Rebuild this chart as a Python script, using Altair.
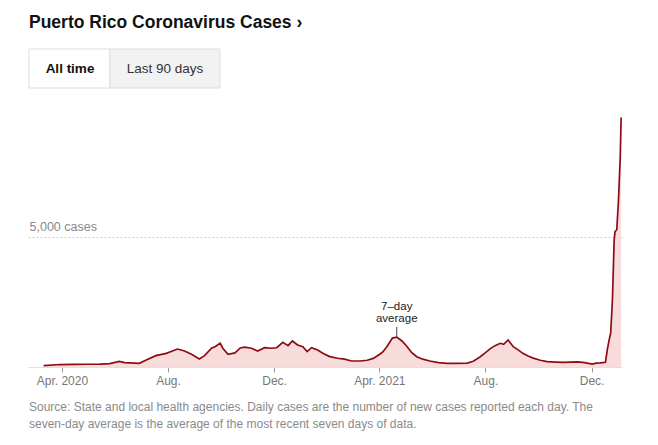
import altair as alt
import pandas as pd

dates = [
    "2020-03-11", "2020-03-30", "2020-04-15", "2020-04-29", "2020-05-15", "2020-05-26",
    "2020-06-06", "2020-06-12", "2020-06-18", "2020-06-29", "2020-07-07", "2020-07-18",
    "2020-07-30", "2020-08-06", "2020-08-12", "2020-08-20", "2020-08-28", "2020-09-06",
    "2020-09-12", "2020-09-20", "2020-09-24", "2020-09-30", "2020-10-03", "2020-10-09",
    "2020-10-17", "2020-10-23", "2020-10-28", "2020-11-05", "2020-11-12", "2020-11-20",
    "2020-11-28", "2020-12-04", "2020-12-11", "2020-12-17", "2020-12-22", "2020-12-28",
    "2021-01-03", "2021-01-08", "2021-01-13", "2021-01-20", "2021-01-26", "2021-02-03",
    "2021-02-12", "2021-02-20", "2021-02-28", "2021-03-10", "2021-03-18", "2021-03-25",
    "2021-04-01", "2021-04-05", "2021-04-10", "2021-04-16", "2021-04-21", "2021-04-27",
    "2021-05-03", "2021-05-08", "2021-05-14", "2021-05-21", "2021-05-29", "2021-06-08",
    "2021-06-18", "2021-06-28", "2021-07-11", "2021-07-18", "2021-07-26", "2021-08-01",
    "2021-08-07", "2021-08-12", "2021-08-18", "2021-08-22", "2021-08-27", "2021-09-02",
    "2021-09-08", "2021-09-13", "2021-09-19", "2021-09-25", "2021-10-03", "2021-10-11",
    "2021-10-20", "2021-10-30", "2021-11-07", "2021-11-15", "2021-11-23", "2021-12-02",
    "2021-12-06", "2021-12-11", "2021-12-17", "2021-12-19", "2021-12-21", "2021-12-23",
    "2021-12-25", "2021-12-27", "2021-12-28", "2021-12-30", "2022-01-01", "2022-01-03",
    "2022-01-04",
]
avg_cases = [
    50, 95, 100, 105, 110, 130,
    215, 170, 160, 140, 270, 435,
    525, 615, 690, 615, 490, 310,
    435, 720, 780, 910, 720, 490,
    540, 730, 760, 720, 615, 740,
    720, 740, 950, 820, 1000, 845,
    780, 590, 740, 655, 525, 400,
    335, 300, 230, 230, 260, 330,
    480, 580, 800, 1110, 1150, 1000,
    780, 560, 395, 300, 230, 170,
    140, 140, 150, 220, 395, 550,
    715, 820, 910, 870, 1040, 780,
    650, 525, 420, 340, 260, 205,
    190, 180, 185, 195, 170, 115,
    150, 160, 180, 650, 1000, 1310,
    2580, 4880, 5200, 5270, 6420, 8090,
    9580,
]

tick_dates = ["2020-04-01", "2020-08-01", "2020-12-01", "2021-04-01", "2021-08-01", "2021-12-01"]
title_text = "Puerto Rico Coronavirus Cases \u203a"
button_labels = ["All time", "Last 90 days"]
source_lines = [
    "Source: State and local health agencies. Daily cases are the number of new cases reported each day. The",
    "seven-day average is the average of the most recent seven days of data.",
]
annot_date = "2021-04-21"
annot_lines = ["7\u2013day", "average"]

FONT = "Liberation Sans"

df = pd.DataFrame({"date": dates, "cases": avg_cases})

def dt(s):
    y, m, d = (int(v) for v in s.split("-"))
    return alt.DateTime(year=y, month=m, date=d)

xscale = alt.Scale(domain=[dt("2020-02-22"), dt("2022-01-05")], nice=False)
yscale = alt.Scale(domain=[0, 9600], nice=False, zero=True)

x_enc = alt.X(
    "date:T",
    scale=xscale,
    title=None,
    axis=alt.Axis(
        values=[dt(t) for t in tick_dates],
        labelExpr="timeFormat(datum.value, '%b') == 'Apr' ? timeFormat(datum.value, 'Apr. %Y') : timeFormat(datum.value, '%b.')",
        grid=False,
        domainColor="#e0e0e0",
        domainWidth=1,
        tickColor="#999999",
        tickSize=5,
        labelColor="#777777",
        labelFont=FONT,
        labelFontSize=12,
        labelPadding=3,
        labelFlush=False,
    ),
)
y_enc = alt.Y(
    "cases:Q",
    scale=yscale,
    title=None,
    axis=alt.Axis(
        values=[5000],
        labelExpr="'5,000 cases'",
        domain=False,
        ticks=False,
        grid=True,
        gridDash=[2, 2],
        gridColor="#cccccc",
        labelAlign="left",
        labelBaseline="bottom",
        labelPadding=-1,
        labelOffset=-3,
        labelColor="#888888",
        labelFont=FONT,
        labelFontSize=12.5,
    ),
)

area = alt.Chart(df).mark_area(color="#f8dcdc", opacity=1).encode(x=x_enc, y=y_enc)
line = alt.Chart(df).mark_line(color="#8d0c14", strokeWidth=1.7).encode(x="date:T", y="cases:Q")

annot_df = pd.DataFrame({"date": [annot_date] * 2, "label": annot_lines, "ypix": [190, 202]})
annot_text = alt.Chart(annot_df).mark_text(
    font=FONT, fontSize=11.5, color="#222222", align="center", baseline="middle"
).encode(x="date:T", y=alt.Y("ypix:Q", scale=None), text="label:N")
annot_tick = alt.Chart(pd.DataFrame({"date": [annot_date]})).mark_rule(
    color="#444444", strokeWidth=1
).encode(x="date:T", y=alt.value(210), y2=alt.value(220))

title = alt.Chart(pd.DataFrame({"t": [title_text]})).mark_text(
    font=FONT, fontSize=17.5, fontWeight="bold", color="#121212", align="left", baseline="alphabetic"
).encode(x=alt.value(1), y=alt.value(-89), text="t:N")

btn_df = pd.DataFrame({
    "label": button_labels,
    "x": [1, 82], "x2": [82, 192],
    "fill": ["#ffffff", "#f2f2f2"],
    "cx": [42, 137],
})
btn_rect = alt.Chart(btn_df).mark_rect(stroke="#dddddd", strokeWidth=1).encode(
    x=alt.X("x:Q", scale=None), x2="x2:Q",
    y=alt.value(-68), y2=alt.value(-29),
    fill=alt.Fill("fill:N", scale=None),
)
btn_text_bold = alt.Chart(btn_df.iloc[[0]]).mark_text(
    font=FONT, fontSize=13.5, fontWeight="bold", color="#121212", align="center", baseline="middle"
).encode(x=alt.X("cx:Q", scale=None), y=alt.value(-48), text="label:N")
btn_text_norm = alt.Chart(btn_df.iloc[[1]]).mark_text(
    font=FONT, fontSize=13.5, color="#333333", align="center", baseline="middle"
).encode(x=alt.X("cx:Q", scale=None), y=alt.value(-48), text="label:N")

src_df = pd.DataFrame({"line": source_lines, "ypix": [290, 307]})
source = alt.Chart(src_df).mark_text(
    font=FONT, fontSize=12, color="#8a8a8a", align="left", baseline="middle"
).encode(x=alt.value(1), y=alt.Y("ypix:Q", scale=None), text="line:N")

chart = alt.layer(
    area, line, annot_tick, annot_text, title, btn_rect, btn_text_bold, btn_text_norm, source
).properties(
    width=594,
    height=250,
    autosize=alt.AutoSizeParams(type="none"),
    padding={"left": 28, "top": 117, "right": 36, "bottom": 78},
    background="#ffffff",
).configure_view(stroke=None)

chart.save("out.html", embed_options={"renderer": "svg", "actions": False})
